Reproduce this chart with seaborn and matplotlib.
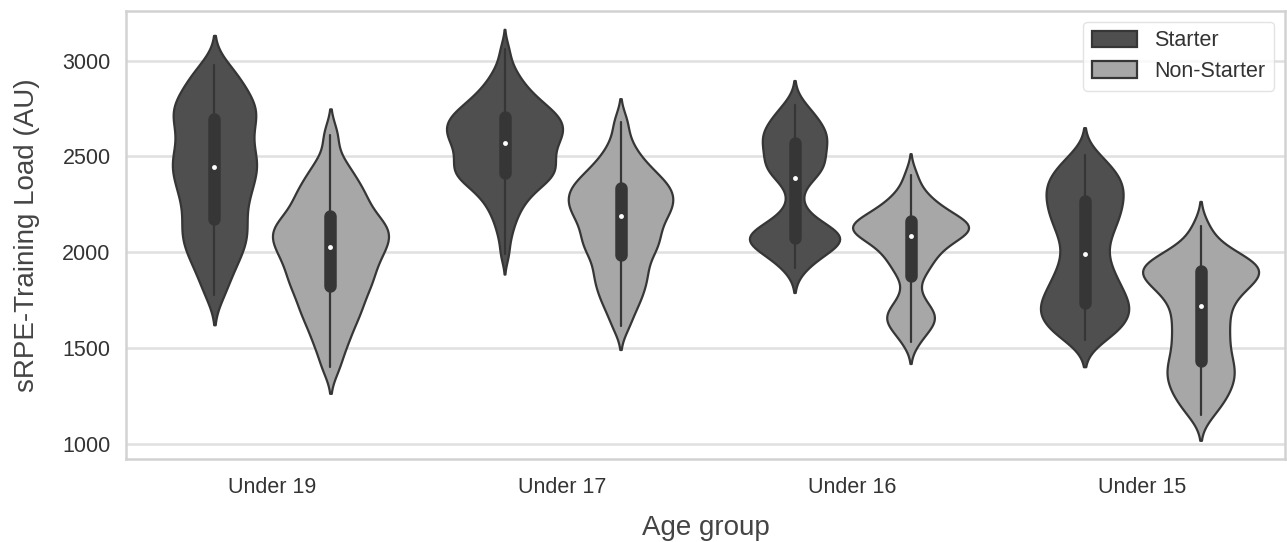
import numpy as np
import pandas as pd
import matplotlib
matplotlib.use("Agg")
import matplotlib.pyplot as plt
import seaborn as sns

# ---- data (sRPE training load, AU), read/ ----
age_groups = ["Under 19", "Under 17", "Under 16", "Under 15"]
roles = ["Starter", "Non-Starter"]

u19_starter = [1777, 1857, 1912, 1957, 1995, 2028, 2058, 2087, 2115, 2144, 2174,
               2208, 2240, 2270, 2298, 2325, 2351, 2376, 2400, 2423, 2447,
               2466, 2487, 2510, 2535, 2561, 2588, 2615, 2642, 2668, 2694,
               2714, 2734, 2755, 2778, 2802, 2829, 2859, 2893, 2932, 2977]
u19_nonstarter = [1400, 1490, 1545, 1595, 1637, 1672, 1703, 1733, 1761, 1792, 1823,
                  1837, 1860, 1884, 1908, 1931, 1951, 1970, 1990, 2010, 2028,
                  2044, 2060, 2076, 2092, 2108, 2124, 2140, 2156, 2172, 2188,
                  2220, 2245, 2270, 2295, 2322, 2352, 2388, 2428, 2485, 2613]
u17_starter = [1990, 2074, 2129, 2169, 2201, 2228, 2251, 2271, 2289, 2305, 2319,
               2332, 2344, 2355, 2365, 2374, 2383, 2391, 2399, 2406, 2413,
               2420, 2427, 2435, 2443, 2451, 2459, 2467, 2475, 2483, 2491,
               2499, 2507, 2515, 2523, 2531, 2539, 2547, 2556, 2565, 2573,
               2580, 2586, 2593, 2600, 2607, 2613, 2620, 2627, 2634, 2640,
               2647, 2654, 2661, 2667, 2674, 2681, 2688, 2694, 2701, 2708,
               2715, 2722, 2730, 2738, 2746, 2755, 2764, 2774, 2784, 2795,
               2807, 2820, 2834, 2850, 2868, 2888, 2912, 2942, 2985, 3060]
u17_nonstarter = [1615, 1690, 1735, 1775, 1808, 1840, 1870, 1898, 1925, 1958, 1988,
                  2008, 2028, 2048, 2068, 2088, 2108, 2128, 2148, 2168, 2188,
                  2203, 2217, 2232, 2247, 2262, 2276, 2291, 2306, 2320, 2335,
                  2350, 2365, 2382, 2402, 2425, 2450, 2480, 2520, 2580, 2680]
u16_starter = [1918, 1950, 1978, 2000, 2018, 2033, 2045, 2055, 2063, 2070, 2075,
               2082, 2092, 2103, 2115, 2128, 2145, 2170, 2215, 2300, 2387,
               2402, 2418, 2435, 2452, 2470, 2488, 2507, 2527, 2548, 2569,
               2582, 2596, 2611, 2627, 2644, 2663, 2684, 2708, 2735, 2769]
u16_nonstarter = [1530, 1582, 1610, 1632, 1652, 1670, 1690, 1712, 1745, 1800, 1875,
                  1905, 1935, 1962, 1985, 2005, 2022, 2039, 2055, 2071, 2087,
                  2094, 2102, 2109, 2116, 2124, 2131, 2139, 2146, 2153, 2161,
                  2172, 2184, 2197, 2211, 2227, 2245, 2266, 2292, 2332, 2405]
u15_starter = [1545, 1570, 1593, 1614, 1634, 1653, 1671, 1689, 1706, 1721, 1736,
               1756, 1776, 1797, 1819, 1842, 1866, 1892, 1922, 1955, 1991,
               2030, 2066, 2098, 2127, 2153, 2177, 2200, 2222, 2244, 2266,
               2287, 2308, 2328, 2348, 2368, 2389, 2412, 2438, 2468, 2509]
u15_nonstarter = [1150, 1198, 1234, 1264, 1291, 1316, 1340, 1364, 1387, 1410, 1432,
                  1461, 1489, 1518, 1547, 1575, 1604, 1633, 1662, 1690, 1719,
                  1747, 1772, 1794, 1813, 1830, 1845, 1859, 1873, 1887, 1901,
                  1910, 1920, 1931, 1943, 1956, 1971, 1990, 2017, 2057, 2135]

y_ticks = [1000, 1500, 2000, 2500, 3000]

groups = {
    ("Under 19", "Starter"): u19_starter,
    ("Under 19", "Non-Starter"): u19_nonstarter,
    ("Under 17", "Starter"): u17_starter,
    ("Under 17", "Non-Starter"): u17_nonstarter,
    ("Under 16", "Starter"): u16_starter,
    ("Under 16", "Non-Starter"): u16_nonstarter,
    ("Under 15", "Starter"): u15_starter,
    ("Under 15", "Non-Starter"): u15_nonstarter,
}
rows = []
for (age, role), vals in groups.items():
    for v in vals:
        rows.append({"Age group": age, "Role": role, "Load": v})
df = pd.DataFrame(rows)

# ---- style ----
sns.set_theme(style="whitegrid")
plt.rcParams["font.family"] = ["Liberation Sans", "DejaVu Sans"]

fig = plt.figure(figsize=(12.87, 5.42), dpi=100)
ax = fig.add_axes([126 / 1287, 1 - 459 / 542, (1285 - 126) / 1287, (459 - 11) / 542])

palette = {"Starter": "#4f4f4f", "Non-Starter": "#a7a7a7"}
handles, labels = None, None
# densities are scaled within each age group (both roles share one scale)
for i, age in enumerate(age_groups):
    sub = df[df["Age group"] == age]
    sns.violinplot(data=sub, x="Age group", y="Load", hue="Role",
                   order=age_groups, hue_order=roles, palette=palette,
                   bw_method=0.24, common_norm=True, inner="box",
                   linewidth=1.6, linecolor="#363636", saturation=1, ax=ax,
                   legend=(i == 0),
                   inner_kws=dict(box_width=9, whis_width=1.6, marker="o",
                                  markersize=3.5, markeredgewidth=0))
    if i == 0:
        lg = ax.get_legend()
        handles = lg.legend_handles
        labels = [t.get_text() for t in lg.get_texts()]
        lg.remove()

ax.set_xlim(-0.505, 3.491)
ax.set_ylim(922, 3259)
ax.set_yticks(y_ticks)
ax.grid(axis="y", linewidth=1.8, color="#e0e0e0")
ax.grid(axis="x", visible=False)
for s in ax.spines.values():
    s.set_linewidth(1.8)
    s.set_color("#d2d2d2")

ax.tick_params(axis="both", labelsize=15.5, colors="#333333", length=0)
ax.tick_params(axis="y", pad=11)
ax.tick_params(axis="x", pad=13)
ax.set_xlabel("Age group", fontsize=20, color="#444444", labelpad=12)
ax.set_ylabel("sRPE-Training Load (AU)", fontsize=20, color="#444444", labelpad=16)

leg = ax.legend(handles, labels, loc="upper right", fontsize=15.5, frameon=True,
                handlelength=2.1, handleheight=0.8, borderaxespad=0.5,
                labelspacing=0.45, handletextpad=0.8)
leg.get_frame().set_edgecolor("#dddddd")
for t in leg.get_texts():
    t.set_color("#333333")

fig.savefig("out.png", dpi=100)
